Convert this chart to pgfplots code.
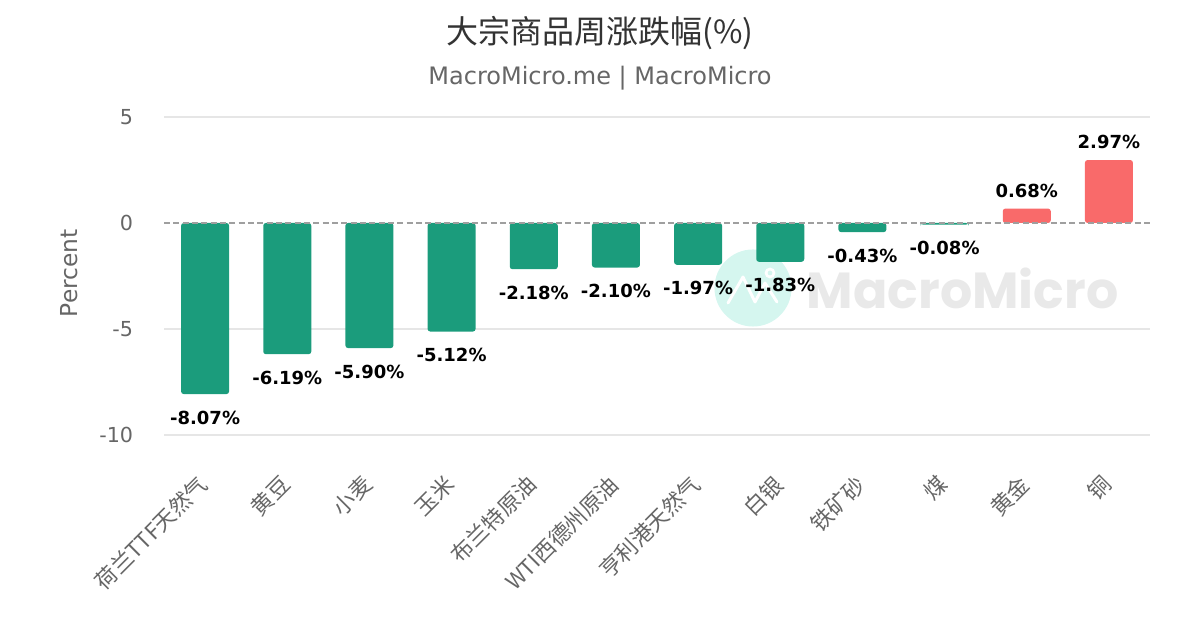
\documentclass[border=0pt]{standalone}
\usepackage{fontspec}
\setmainfont{DejaVu Sans}
\newfontfamily\cjk{Noto Sans CJK SC}
\newfontfamily\wm{Poppins}
\usepackage{pgfplots}
\pgfplotsset{compat=1.18}
\definecolor{mmgreen}{HTML}{1B9C7C}
\definecolor{mmred}{HTML}{F96A6A}
\definecolor{gridc}{HTML}{E6E6E6}
\definecolor{tickc}{HTML}{666666}
\definecolor{titlec}{HTML}{333333}
\definecolor{mint}{HTML}{D5F6EF}
\definecolor{wmtext}{HTML}{E9E9E9}
\begin{document}
\begin{tikzpicture}
\path[use as bounding box] (0,0) rectangle (900pt,472.5pt);
% watermark (decoration)
\fill[mint] (564.75pt,256.5pt) circle (28.9pt);
\draw[white,line width=2.2pt,line join=round,line cap=round] (546pt,245.25pt) -- (557.25pt,264.75pt) -- (566.25pt,246pt) -- (573.75pt,260.25pt) -- (582.75pt,246pt);
\draw[white,line width=2pt] (577.5pt,267.75pt) circle (3pt);
\node[anchor=west,inner sep=0pt,text=wmtext,font=\wm\bfseries\fontsize{38}{38}\selectfont] at (605pt,256.5pt) {MacroMicro};
% titles
\node[text=titlec,font=\cjk\fontsize{24}{28}\selectfont] at (450pt,447.5pt) {大宗商品周涨跌幅(\%)};
\node[text=tickc,font=\fontsize{18}{22}\selectfont] at (450pt,414pt) {MacroMicro.me | MacroMicro};
\begin{axis}[
  at={(123pt,146.25pt)}, anchor=south west,
  scale only axis, width=739.5pt, height=238.5pt,
  xmin=-0.5, xmax=11.5, ymin=-10, ymax=5,
  axis line style={draw=none},
  major tick length=0pt,
  ytick={-10,-5,5}, yticklabels={-10,-5,5},
  extra y ticks={0}, extra y tick labels={0},
  extra y tick style={grid=none},
  ymajorgrids, major grid style={gridc, line width=1pt},
  yticklabel style={text=tickc, font=\fontsize{15.5}{18}\selectfont, anchor=east, inner sep=0pt, xshift=-23pt},
  xtick={0,...,11},
  xticklabels={荷兰TTF天然气,黄豆,小麦,玉米,布兰特原油,WTI西德州原油,亨利港天然气,白银,铁矿砂,煤,黄金,铜},
  xticklabel style={yshift=-34pt, xshift=-1pt, rotate=45, anchor=east, inner sep=0pt, text=tickc, font=\cjk\fontsize{16.5}{19}\selectfont},
  ylabel={Percent},
  ylabel style={at={(axis description cs:-0.0963,0.509)}, anchor=center, text=tickc, font=\fontsize{17.5}{20}\selectfont},
  point meta=explicit symbolic,
  clip=false,
]
\addplot[ybar, bar width=36pt, bar shift=0pt, fill=mmgreen, draw=none, rounded corners=2pt,
  nodes near coords={\pgfplotspointmeta\%},
  every node near coord/.append style={anchor=north, inner sep=0pt, yshift=-12.4pt, font=\bfseries\fontsize{13.5}{16}\selectfont, text=black}]
  coordinates {(0,-8.07) [-8.07] (1,-6.19) [-6.19] (2,-5.90) [-5.90] (3,-5.12) [-5.12] (4,-2.18) [-2.18] (5,-2.10) [-2.10] (6,-1.97) [-1.97] (7,-1.83) [-1.83] (8,-0.43) [-0.43] (9,-0.08) [-0.08]};
\addplot[ybar, bar width=36pt, bar shift=0pt, fill=mmred, draw=none, rounded corners=2pt,
  nodes near coords={\pgfplotspointmeta\%},
  every node near coord/.append style={anchor=south, inner sep=0pt, yshift=8.25pt, font=\bfseries\fontsize{13.5}{16}\selectfont, text=black}]
  coordinates {(10,0.68) [0.68] (11,2.97) [2.97]};
\draw[color=gray!75, line width=1pt, dash pattern=on 4.5pt off 2.5pt] (axis cs:-0.5,0) -- (axis cs:11.5,0);
\end{axis}
\end{tikzpicture}
\end{document}
